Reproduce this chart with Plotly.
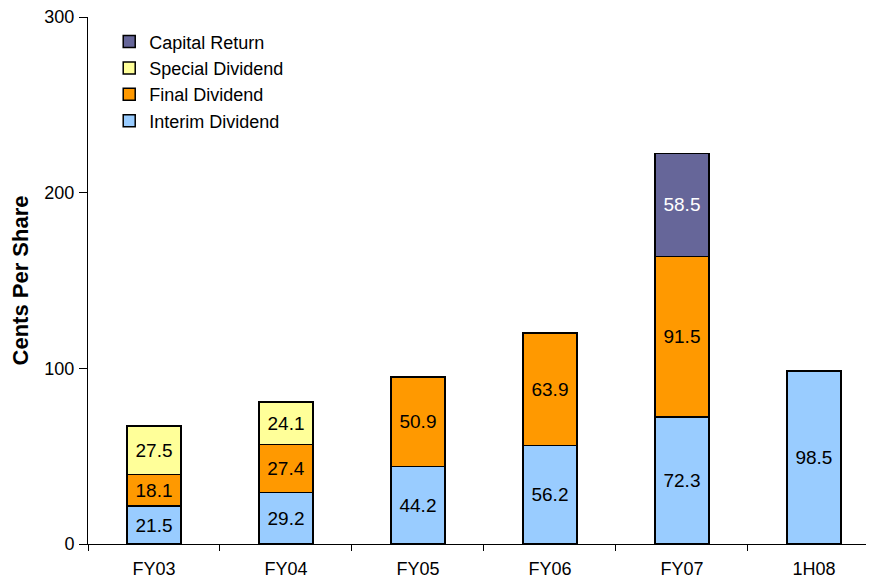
import plotly.graph_objects as go

categories = ["FY03", "FY04", "FY05", "FY06", "FY07", "1H08"]
interim = [21.5, 29.2, 44.2, 56.2, 72.3, 98.5]
final = [18.1, 27.4, 50.9, 63.9, 91.5, None]
special = [27.5, 24.1, None, None, None, None]
capital = [None, None, None, None, 58.5, None]

series = [
    ("Interim Dividend", interim, "#99CCFF", "black"),
    ("Final Dividend", final, "#FF9900", "black"),
    ("Special Dividend", special, "#FFFF99", "black"),
    ("Capital Return", capital, "#666699", "white"),
]

FONT = "Arial, 'Liberation Sans', sans-serif"

fig = go.Figure()
for name, vals, color, tcolor in series:
    fig.add_trace(go.Bar(
        name=name, x=categories, y=vals,
        marker=dict(color=color, line=dict(color="black", width=1.5)),
        text=[("%.1f" % v) if v is not None else "" for v in vals],
        textposition="inside", insidetextanchor="middle",
        textfont=dict(family=FONT, size=19, color=tcolor),
        width=0.41,
    ))

fig.update_layout(
    barmode="stack",
    width=874, height=583,
    margin=dict(l=80, r=8, t=9, b=47, autoexpand=False),
    plot_bgcolor="white", paper_bgcolor="white",
    font=dict(family=FONT, size=18, color="black"),
    uniformtext=dict(mode="show", minsize=19),
    legend=dict(
        x=0.027, y=0.988, xanchor="left", yanchor="top",
        traceorder="reversed", font=dict(size=18),
        bgcolor="rgba(0,0,0,0)", itemwidth=30, tracegroupgap=0,
    ),
    showlegend=True,
)
fig.update_xaxes(
    range=[-0.5, 5.455], showline=True, linecolor="black", linewidth=1,
    ticks="outside", tickson="boundaries", ticklen=6, tickcolor="black",
    showgrid=False, tickfont=dict(size=18), ticklabelstandoff=8, automargin=False,
)
fig.update_yaxes(
    range=[0, 300], dtick=100, showline=True, linecolor="black", linewidth=1,
    ticks="outside", ticklen=8, tickcolor="black", showgrid=False, zeroline=False,
    tickfont=dict(size=18), ticklabelstandoff=1, ticklabeloverflow="allow",
    automargin=False,
    title=dict(text="<b>Cents Per Share</b>", font=dict(size=22), standoff=12),
)

fig.write_html("out.html")
